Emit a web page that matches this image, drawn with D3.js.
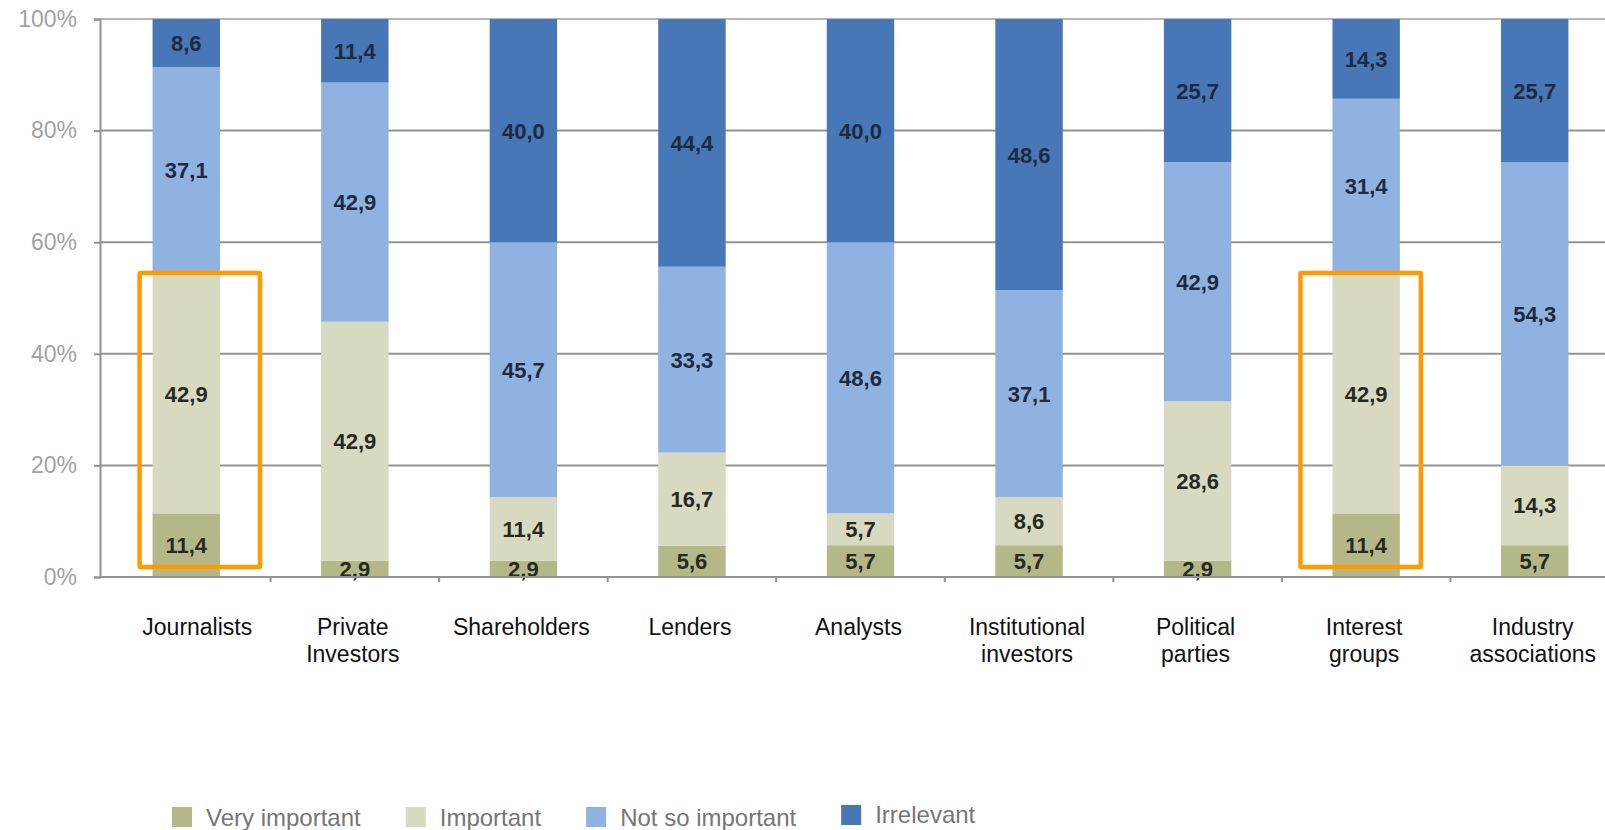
<!DOCTYPE html>
<html>
<head>
<meta charset="utf-8">
<script src="https://cdn.jsdelivr.net/npm/d3@7"></script>
<style>
  body { margin: 0; background: #fff; }
  svg { display: block; font-family: "Liberation Sans", Arial, sans-serif; }
</style>
</head>
<body>
<svg id="chart" width="1605" height="830"></svg>
<script>
// Stakeholder groups (labels wrap at the space)
const categories = ["Journalists", "Private Investors", "Shareholders", "Lenders", "Analysts",
  "Institutional investors", "Political parties", "Interest groups", "Industry associations"];

// Share of answers per group, in percent
const veryImportant  = [11.4,  2.9,  2.9,  5.6,  5.7,  5.7,  2.9, 11.4,  5.7];
const important      = [42.9, 42.9, 11.4, 16.7,  5.7,  8.6, 28.6, 42.9, 14.3];
const notSoImportant = [37.1, 42.9, 45.7, 33.3, 48.6, 37.1, 42.9, 31.4, 54.3];
const irrelevant     = [ 8.6, 11.4, 40.0, 44.4, 40.0, 48.6, 25.7, 14.3, 25.7];

const seriesNames = ["Very important", "Important", "Not so important", "Irrelevant"];
const yTickValues = [0, 0.2, 0.4, 0.6, 0.8, 1.0];
const yTickLabels = ["0%", "20%", "40%", "60%", "80%", "100%"];

// Groups framed by an orange box
const highlighted = ["Journalists", "Interest groups"];

const colors = ["#b4b889", "#d7d9c0", "#8fb2e1", "#4777b6"];

const rows = categories.map((c, i) => ({
  category: c,
  "Very important": veryImportant[i],
  "Important": important[i],
  "Not so important": notSoImportant[i],
  "Irrelevant": irrelevant[i]
}));

const svg = d3.select("#chart");

const x = d3.scaleBand()
  .domain(categories)
  .range([102, 1619])
  .paddingInner(0.6)
  .paddingOuter(0.3);

const y = d3.scaleLinear().domain([0, 1]).range([577, 19]);

const color = d3.scaleOrdinal().domain(seriesNames).range(colors);

const stacked = d3.stack().keys(seriesNames).offset(d3.stackOffsetExpand)(rows);

// Horizontal gridlines
svg.append("g")
  .selectAll("line")
  .data(yTickValues.filter(v => v > 0))
  .join("line")
  .attr("x1", 100).attr("x2", 1605)
  .attr("y1", d => y(d)).attr("y2", d => y(d))
  .attr("stroke", d => d === 1 ? "#b8b8b8" : "#939393")
  .attr("stroke-width", 2);

// Y axis
const yAxis = svg.append("g")
  .attr("transform", "translate(100,0)")
  .call(d3.axisLeft(y).tickValues(yTickValues).tickFormat((d, i) => yTickLabels[i]).tickSize(6).tickPadding(17));
yAxis.select(".domain").attr("stroke", "#939393").attr("stroke-width", 2);
yAxis.selectAll(".tick line").attr("stroke", "#939393").attr("stroke-width", 2);
yAxis.selectAll(".tick text")
  .attr("fill", "#a2a2a2")
  .style("font-size", "23px")
  .style("font-family", "'Liberation Sans', Arial, sans-serif");

// Stacked bars
const layers = svg.append("g")
  .selectAll("g")
  .data(stacked)
  .join("g")
  .attr("fill", d => color(d.key));

layers.selectAll("rect")
  .data(d => d.map(p => ({ key: d.key, p })))
  .join("rect")
  .attr("x", d => x(d.p.data.category))
  .attr("width", x.bandwidth())
  .attr("y", d => y(d.p[1]))
  .attr("height", d => y(d.p[0]) - y(d.p[1]));

// Value labels
const fmt = v => v.toFixed(1).replace(".", ",");
layers.selectAll("text")
  .data(d => d.map(p => ({ key: d.key, p })))
  .join("text")
  .attr("x", d => x(d.p.data.category) + x.bandwidth() / 2)
  .attr("y", d => (y(d.p[0]) + y(d.p[1])) / 2)
  .attr("dy", "0.36em")
  .attr("text-anchor", "middle")
  .attr("fill", d => d.key === "Irrelevant" || d.key === "Not so important" ? "#1e2a40" : "#262a22")
  .style("font-size", "22px")
  .style("font-weight", "bold")
  .text(d => fmt(d.p.data[d.key]));

// X axis baseline with ticks between groups
const xAxisG = svg.append("g");
xAxisG.append("line")
  .attr("x1", 100).attr("x2", 1605)
  .attr("y1", y(0)).attr("y2", y(0))
  .attr("stroke", "#939393").attr("stroke-width", 2);
xAxisG.selectAll("line.tick")
  .data(categories.slice(1))
  .join("line")
  .attr("class", "tick")
  .attr("x1", d => x(d) - x.step() * x.paddingInner() / 2)
  .attr("x2", d => x(d) - x.step() * x.paddingInner() / 2)
  .attr("y1", y(0)).attr("y2", y(0) + 5)
  .attr("stroke", "#939393").attr("stroke-width", 2);

// Category labels
const labelNudge = { "Journalists": 13 };
svg.append("g")
  .selectAll("text")
  .data(categories)
  .join("text")
  .attr("y", 635)
  .attr("text-anchor", "middle")
  .attr("fill", "#111")
  .style("font-size", "23px")
  .each(function (d) {
    const cx = x(d) + x.bandwidth() / 2 + (labelNudge[d] || 0) - 2;
    d3.select(this).selectAll("tspan")
      .data(d.split(" "))
      .join("tspan")
      .attr("x", cx)
      .attr("dy", (w, i) => i === 0 ? 0 : 27)
      .text(w => w);
  });

// Orange frames around the highlighted groups
const frameOffsets = { "Journalists": [-13, 40], "Interest groups": [-32, 21] };
const frameTop = d => {
  const i = categories.indexOf(d);
  const total = veryImportant[i] + important[i] + notSoImportant[i] + irrelevant[i];
  return y((veryImportant[i] + important[i]) / total) - 1;
};
svg.append("g")
  .selectAll("rect")
  .data(highlighted)
  .join("rect")
  .attr("x", d => x(d) + frameOffsets[d][0])
  .attr("width", d => x.bandwidth() - frameOffsets[d][0] + frameOffsets[d][1])
  .attr("y", frameTop)
  .attr("height", d => y(0) - 10 - frameTop(d))
  .attr("fill", "none")
  .attr("stroke", "#ff9a00")
  .attr("stroke-width", 4.5)
  .attr("rx", 1);

// Legend
const legend = svg.append("g").attr("transform", "translate(172,0)");
let cursor = 0;
seriesNames.forEach((name, i) => {
  const item = legend.append("g").attr("transform", `translate(${cursor},0)`);
  item.append("rect")
    .attr("x", 0).attr("y", i === 3 ? 805 : 807)
    .attr("width", 20).attr("height", 20)
    .attr("fill", color(name));
  const t = item.append("text")
    .attr("x", 34).attr("y", i === 3 ? 823 : 826)
    .attr("fill", "#767676")
    .style("font-size", "24px")
    .text(name);
  cursor += 34 + t.node().getComputedTextLength() + 45;
});
</script>
</body>
</html>
